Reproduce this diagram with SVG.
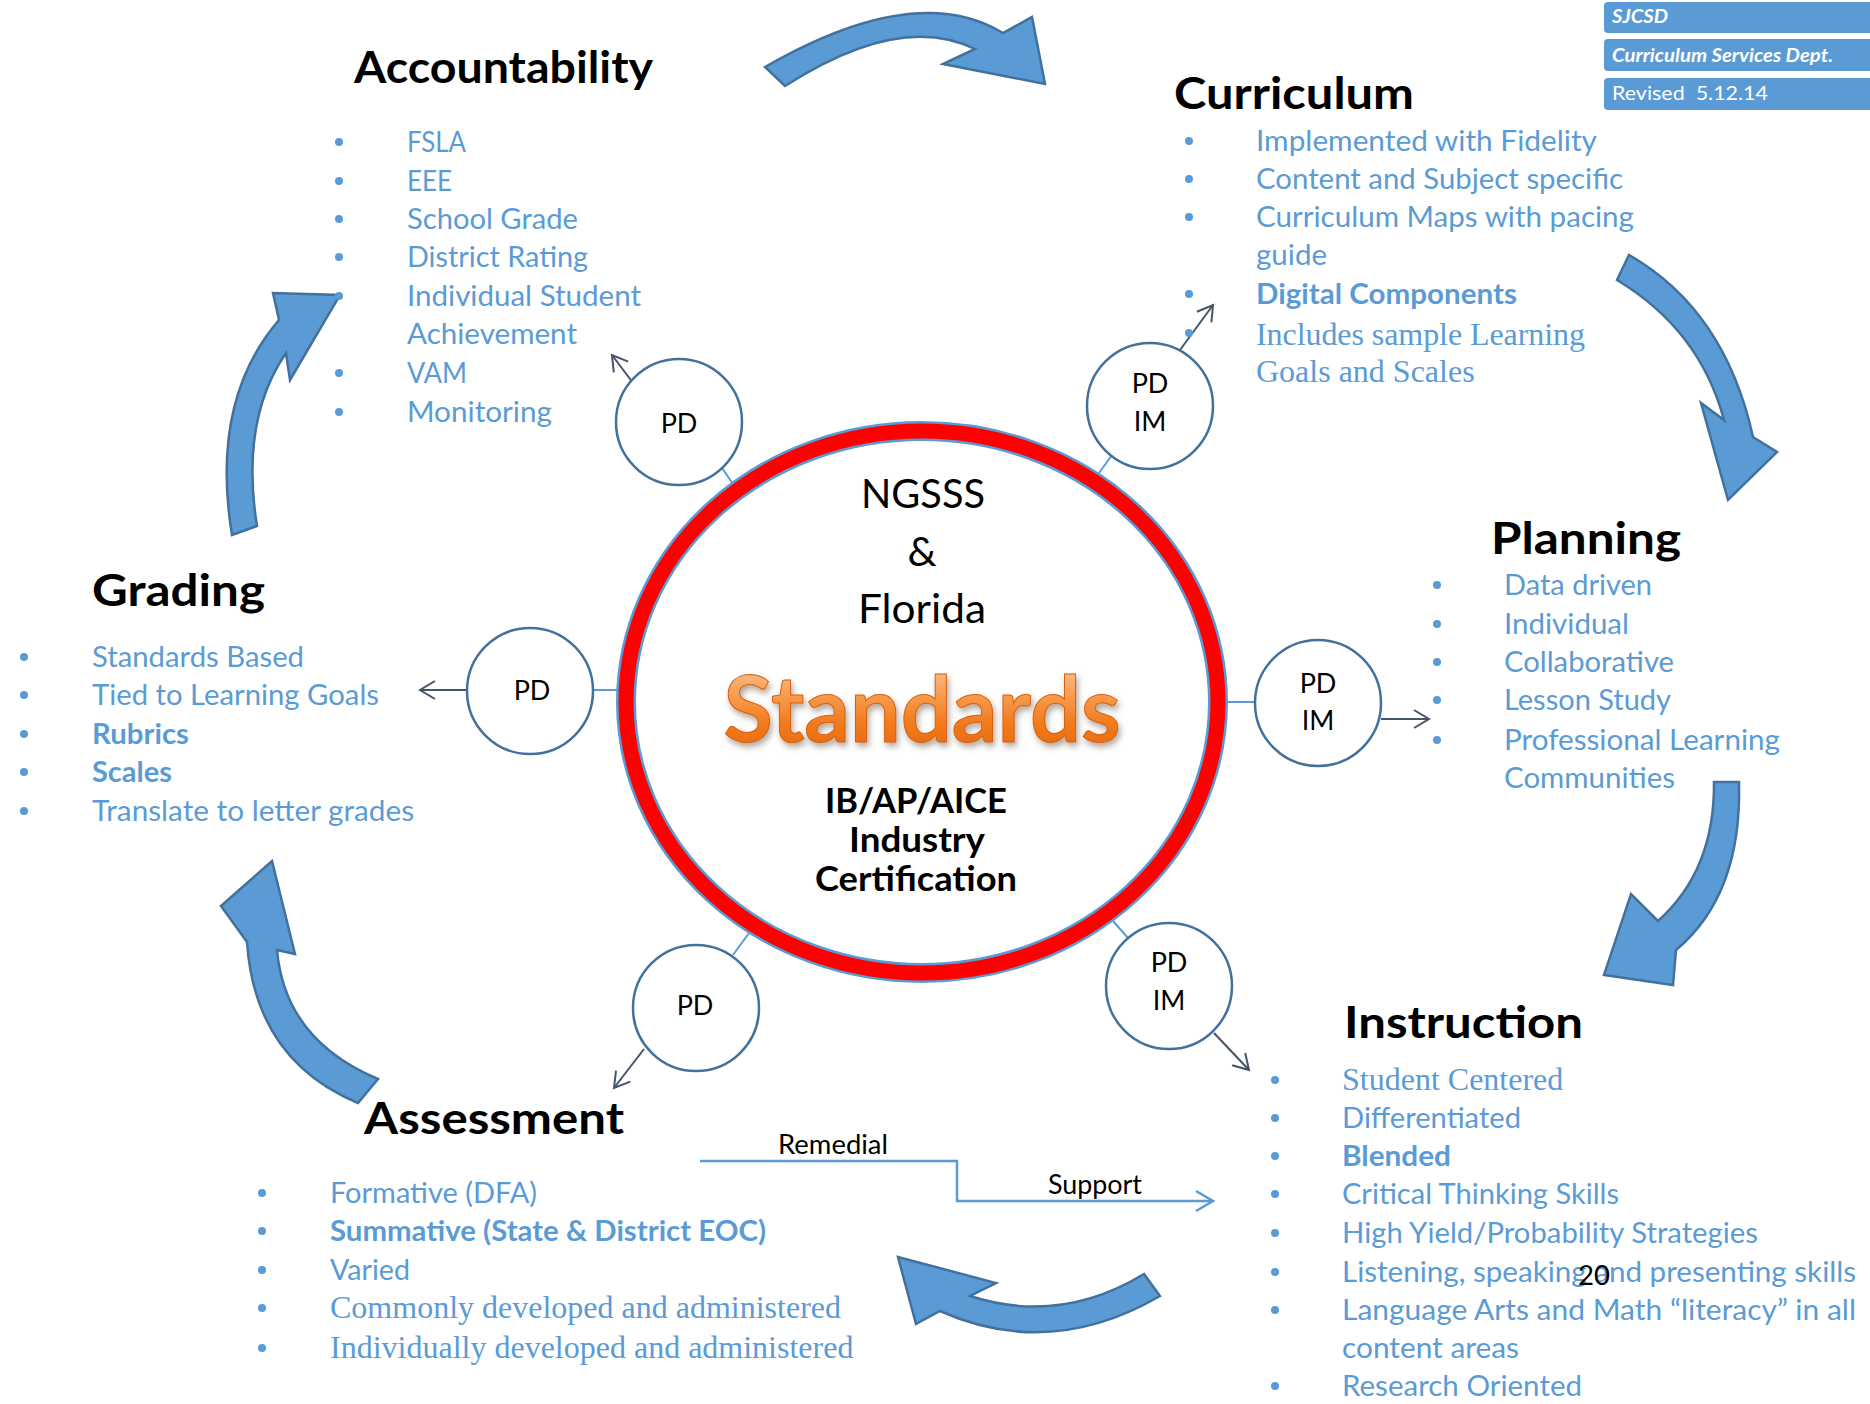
<svg xmlns="http://www.w3.org/2000/svg" width="1870" height="1404" viewBox="0 0 1870 1404">
<defs>
<style>
.title{font-family:Lato,"Open Sans",sans-serif;font-weight:bold;font-size:44px;fill:#000}
.item{font-family:Lato,"Open Sans",sans-serif;font-size:28px;fill:#5B9BD5}
.b{font-weight:bold}
.serif{font-family:"Liberation Serif",serif;font-size:32px;fill:#5B9BD5}
.bul{fill:#5B9BD5}
.big{fill:#5B9BD5;stroke:#41719C;stroke-width:2.5;stroke-linejoin:miter}
.pd circle{fill:#fff;stroke:#41719C;stroke-width:2.5}
.pdt{font-family:Lato,"Open Sans",sans-serif;font-size:27px;fill:#000;text-anchor:middle}
.conn{stroke:#5B9BD5;stroke-width:2;fill:none}
.parrow{stroke:#44546A;stroke-width:2;fill:none;marker-end:url(#open)}
.hdr rect{fill:#5B9BD5}
.hdrt{font-family:Lato,"Open Sans",sans-serif;fill:#fff;font-size:19px}
.ctr{font-family:Lato,"Open Sans",sans-serif;fill:#000;text-anchor:middle}
.lbl{font-family:Lato,"Open Sans",sans-serif;font-size:26px;fill:#000}
</style>
<marker id="open" markerUnits="userSpaceOnUse" markerWidth="24" markerHeight="24" refX="19" refY="12" orient="auto">
<path d="M4,3 L19,12 L4,21" fill="none" stroke="#44546A" stroke-width="2"/>
</marker>
<marker id="openblue" markerUnits="userSpaceOnUse" markerWidth="24" markerHeight="24" refX="20" refY="12" orient="auto">
<path d="M3,2 L20,12 L3,22" fill="none" stroke="#5B9BD5" stroke-width="2.5"/>
</marker>
<linearGradient id="orange" x1="0" y1="0" x2="0" y2="1">
<stop offset="0" stop-color="#FDD6B4"/>
<stop offset="0.35" stop-color="#F9A25A"/>
<stop offset="0.65" stop-color="#F27B1C"/>
<stop offset="1" stop-color="#E0640A"/>
</linearGradient>
<filter id="shadow" x="-10%" y="-20%" width="120%" height="150%">
<feDropShadow dx="2" dy="4" stdDeviation="3" flood-color="#7F6A55" flood-opacity="0.6"/>
</filter>
</defs>
<rect width="1870" height="1404" fill="#fff"/>

<g id="connectors">
<path class="big" d="M765,67 Q916,-20 1003,33 L1032,17 L1045,84 L943,64 L975,49 Q900,12 785,86 Z"/>
<path class="big" d="M1629,255 Q1725,310 1753,437 L1777,452 L1728,500 L1701,403 L1724,420 Q1700,330 1617,280 Z"/>
<path class="big" d="M1739,782 Q1742,895 1676,950 L1673,985 L1604,975 L1631,894 L1658,921 Q1715,870 1714,782 Z"/>
<path class="big" d="M1160,1296 Q1050,1360 940,1311 L916,1324 L898,1257 L996,1283 L970,1296 Q1060,1325 1144,1274 Z"/>
<path class="big" d="M358,1103 Q255,1060 247,942 L221,906 L272,861 L295,954 L277,950 Q285,1040 378,1079 Z"/>
<path class="big" d="M232,535 Q210,400 279,320 L273,293 L340,295 L290,380 L286,353 Q240,420 257,526 Z"/>
<line class="conn" x1="722" y1="468" x2="733" y2="484"/>
<line class="conn" x1="1112" y1="455" x2="1099" y2="473"/>
<line class="conn" x1="594" y1="690" x2="617" y2="690"/>
<line class="conn" x1="1255" y1="702" x2="1228" y2="702"/>
<line class="conn" x1="733" y1="955" x2="749" y2="933"/>
<line class="conn" x1="1128" y1="938" x2="1113" y2="921"/>
<line class="parrow" x1="633" y1="383" x2="612" y2="355"/>
<line class="parrow" x1="1180" y1="350" x2="1213" y2="305"/>
<line class="parrow" x1="466" y1="690" x2="420" y2="690"/>
<line class="parrow" x1="1381" y1="719" x2="1429" y2="719"/>
<line class="parrow" x1="644" y1="1049" x2="614" y2="1088"/>
<line class="parrow" x1="1214" y1="1033" x2="1249" y2="1070"/>
<polyline points="700,1161 957,1161 957,1201 1213,1201" fill="none" stroke="#5B9BD5" stroke-width="2.5" marker-end="url(#openblue)"/>
<text class="lbl" x="778" y="1154" textLength="110" lengthAdjust="spacingAndGlyphs">Remedial</text>
<text class="lbl" x="1048" y="1194" textLength="94" lengthAdjust="spacingAndGlyphs">Support</text>
</g>

<g id="header" class="hdr">
<rect x="1604" y="2" width="280" height="31" rx="4"/>
<rect x="1604" y="39" width="280" height="32" rx="4"/>
<rect x="1604" y="78" width="280" height="32" rx="4"/>
<text class="hdrt" x="1612" y="23" font-weight="bold" font-style="italic" textLength="56" lengthAdjust="spacingAndGlyphs">SJCSD</text>
<text class="hdrt" x="1612" y="62" font-weight="bold" font-style="italic" textLength="221" lengthAdjust="spacingAndGlyphs">Curriculum Services Dept.</text>
<text class="hdrt" x="1612" y="100" style="white-space:pre" textLength="156" lengthAdjust="spacingAndGlyphs">Revised  5.12.14</text>
</g>

<g id="accountability">
<text class="title" x="354" y="83" textLength="299" lengthAdjust="spacingAndGlyphs">Accountability</text>
<circle class="bul" cx="339" cy="142" r="4"/>
<circle class="bul" cx="339" cy="181" r="4"/>
<circle class="bul" cx="339" cy="219" r="4"/>
<circle class="bul" cx="339" cy="257" r="4"/>
<circle class="bul" cx="339" cy="296" r="4"/>
<circle class="bul" cx="339" cy="373" r="4"/>
<circle class="bul" cx="339" cy="412" r="4"/>
<text class="item" x="407" y="152" textLength="59" lengthAdjust="spacingAndGlyphs">FSLA</text>
<text class="item" x="407" y="191" textLength="45" lengthAdjust="spacingAndGlyphs">EEE</text>
<text class="item" x="407" y="229" textLength="171" lengthAdjust="spacingAndGlyphs">School Grade</text>
<text class="item" x="407" y="267" textLength="181" lengthAdjust="spacingAndGlyphs">District Rating</text>
<text class="item" x="407" y="306" textLength="234" lengthAdjust="spacingAndGlyphs">Individual Student</text>
<text class="item" x="407" y="344" textLength="170" lengthAdjust="spacingAndGlyphs">Achievement</text>
<text class="item" x="407" y="383" textLength="60" lengthAdjust="spacingAndGlyphs">VAM</text>
<text class="item" x="407" y="422" textLength="145" lengthAdjust="spacingAndGlyphs">Monitoring</text>
</g>

<g id="curriculum">
<text class="title" x="1174" y="109" textLength="240" lengthAdjust="spacingAndGlyphs">Curriculum</text>
<circle class="bul" cx="1189" cy="141" r="4"/>
<circle class="bul" cx="1189" cy="179" r="4"/>
<circle class="bul" cx="1189" cy="217" r="4"/>
<circle class="bul" cx="1189" cy="294" r="4"/>
<circle class="bul" cx="1189" cy="333" r="4"/>
<text class="item" x="1256" y="151" textLength="341" lengthAdjust="spacingAndGlyphs">Implemented with Fidelity</text>
<text class="item" x="1256" y="189" textLength="367" lengthAdjust="spacingAndGlyphs">Content and Subject specific</text>
<text class="item" x="1256" y="227" textLength="378" lengthAdjust="spacingAndGlyphs">Curriculum Maps with pacing</text>
<text class="item" x="1256" y="265" textLength="71" lengthAdjust="spacingAndGlyphs">guide</text>
<text class="item b" x="1256" y="304" textLength="261" lengthAdjust="spacingAndGlyphs">Digital Components</text>
<text class="serif" x="1256" y="345" textLength="329" lengthAdjust="spacing">Includes sample Learning</text>
<text class="serif" x="1256" y="382">Goals and Scales</text>
</g>

<g id="planning">
<text class="title" x="1491" y="554" textLength="190" lengthAdjust="spacingAndGlyphs">Planning</text>
<circle class="bul" cx="1437" cy="585" r="4"/>
<circle class="bul" cx="1437" cy="624" r="4"/>
<circle class="bul" cx="1437" cy="662" r="4"/>
<circle class="bul" cx="1437" cy="700" r="4"/>
<circle class="bul" cx="1437" cy="740" r="4"/>
<text class="item" x="1504" y="595" textLength="148" lengthAdjust="spacingAndGlyphs">Data driven</text>
<text class="item" x="1504" y="634" textLength="125" lengthAdjust="spacingAndGlyphs">Individual</text>
<text class="item" x="1504" y="672" textLength="170" lengthAdjust="spacingAndGlyphs">Collaborative</text>
<text class="item" x="1504" y="710" textLength="167" lengthAdjust="spacingAndGlyphs">Lesson Study</text>
<text class="item" x="1504" y="750" textLength="276" lengthAdjust="spacingAndGlyphs">Professional Learning</text>
<text class="item" x="1504" y="788" textLength="171" lengthAdjust="spacingAndGlyphs">Communities</text>
</g>

<g id="grading">
<text class="title" x="92" y="606" textLength="173" lengthAdjust="spacingAndGlyphs">Grading</text>
<circle class="bul" cx="24" cy="657" r="4"/>
<circle class="bul" cx="24" cy="695" r="4"/>
<circle class="bul" cx="24" cy="734" r="4"/>
<circle class="bul" cx="24" cy="772" r="4"/>
<circle class="bul" cx="24" cy="811" r="4"/>
<text class="item" x="92" y="667" textLength="212" lengthAdjust="spacingAndGlyphs">Standards Based</text>
<text class="item" x="92" y="705" textLength="287" lengthAdjust="spacingAndGlyphs">Tied to Learning Goals</text>
<text class="item b" x="92" y="744" textLength="97" lengthAdjust="spacingAndGlyphs">Rubrics</text>
<text class="item b" x="92" y="782" textLength="80" lengthAdjust="spacingAndGlyphs">Scales</text>
<text class="item" x="92" y="821" textLength="322" lengthAdjust="spacingAndGlyphs">Translate to letter grades</text>
</g>

<g id="assessment">
<text class="title" x="364" y="1134" textLength="260" lengthAdjust="spacingAndGlyphs">Assessment</text>
<circle class="bul" cx="262" cy="1193" r="4"/>
<circle class="bul" cx="262" cy="1231" r="4"/>
<circle class="bul" cx="262" cy="1270" r="4"/>
<circle class="bul" cx="262" cy="1308" r="4"/>
<circle class="bul" cx="262" cy="1348" r="4"/>
<text class="item" x="330" y="1203" textLength="207" lengthAdjust="spacingAndGlyphs">Formative (DFA)</text>
<text class="item b" x="330" y="1241" textLength="436" lengthAdjust="spacingAndGlyphs">Summative (State &amp; District EOC)</text>
<text class="item" x="330" y="1280" textLength="80" lengthAdjust="spacingAndGlyphs">Varied</text>
<text class="serif" x="330" y="1318">Commonly developed and administered</text>
<text class="serif" x="330" y="1358">Individually developed and administered</text>
</g>

<g id="instruction">
<text class="title" x="1344" y="1038" textLength="239" lengthAdjust="spacingAndGlyphs">Instruction</text>
<circle class="bul" cx="1275" cy="1080" r="4"/>
<circle class="bul" cx="1275" cy="1118" r="4"/>
<circle class="bul" cx="1275" cy="1156" r="4"/>
<circle class="bul" cx="1275" cy="1194" r="4"/>
<circle class="bul" cx="1275" cy="1233" r="4"/>
<circle class="bul" cx="1275" cy="1272" r="4"/>
<circle class="bul" cx="1275" cy="1310" r="4"/>
<circle class="bul" cx="1275" cy="1386" r="4"/>
<text class="serif" x="1342" y="1090">Student Centered</text>
<text class="item" x="1342" y="1128" textLength="179" lengthAdjust="spacingAndGlyphs">Differentiated</text>
<text class="item b" x="1342" y="1166" textLength="109" lengthAdjust="spacingAndGlyphs">Blended</text>
<text class="item" x="1342" y="1204" textLength="277" lengthAdjust="spacingAndGlyphs">Critical Thinking Skills</text>
<text class="item" x="1342" y="1243" textLength="416" lengthAdjust="spacingAndGlyphs">High Yield/Probability Strategies</text>
<text class="item" x="1342" y="1282" textLength="514" lengthAdjust="spacingAndGlyphs">Listening, speaking and presenting skills</text>
<text class="item" x="1342" y="1320" textLength="514" lengthAdjust="spacingAndGlyphs">Language Arts and Math “literacy” in all</text>
<text class="item" x="1342" y="1358" textLength="177" lengthAdjust="spacingAndGlyphs">content areas</text>
<text class="item" x="1342" y="1396" textLength="240" lengthAdjust="spacingAndGlyphs">Research Oriented</text>
<text class="lbl" x="1578" y="1285" textLength="32" lengthAdjust="spacingAndGlyphs">20</text>
</g>

<g id="standards">
<ellipse cx="922" cy="702" rx="296" ry="271" fill="#fff" stroke="#5B9BD5" stroke-width="20"/>
<ellipse cx="922" cy="702" rx="296" ry="271" fill="none" stroke="#FF0000" stroke-width="15"/>
<text class="ctr" x="923" y="508" font-size="41" textLength="124" lengthAdjust="spacingAndGlyphs">NGSSS</text>
<text class="ctr" x="922" y="566" font-size="41">&amp;</text>
<text class="ctr" x="922" y="623" font-size="41" textLength="128" lengthAdjust="spacingAndGlyphs">Florida</text>
<text x="922" y="742" text-anchor="middle" font-family="Lato, 'Open Sans', sans-serif" font-weight="bold" font-size="92" fill="url(#orange)" stroke="#D9600A" stroke-width="1" filter="url(#shadow)" textLength="397" lengthAdjust="spacingAndGlyphs">Standards</text>
<text class="ctr" x="916" y="813" font-size="35" font-weight="bold" textLength="182" lengthAdjust="spacingAndGlyphs">IB/AP/AICE</text>
<text class="ctr" x="917" y="852" font-size="35" font-weight="bold" textLength="136" lengthAdjust="spacingAndGlyphs">Industry</text>
<text class="ctr" x="916" y="891" font-size="35" font-weight="bold" textLength="202" lengthAdjust="spacingAndGlyphs">Certification</text>
</g>

<g id="pd-accountability" class="pd">
<circle cx="679" cy="422" r="63"/>
<text class="pdt" x="679" y="433">PD</text>
</g>
<g id="pd-curriculum" class="pd">
<circle cx="1150" cy="406" r="63"/>
<text class="pdt" x="1150" y="393">PD</text>
<text class="pdt" x="1150" y="431">IM</text>
</g>
<g id="pd-grading" class="pd">
<circle cx="530" cy="691" r="63"/>
<text class="pdt" x="532" y="700">PD</text>
</g>
<g id="pd-planning" class="pd">
<circle cx="1318" cy="703" r="63"/>
<text class="pdt" x="1318" y="693">PD</text>
<text class="pdt" x="1318" y="730">IM</text>
</g>
<g id="pd-assessment" class="pd">
<circle cx="696" cy="1008" r="63"/>
<text class="pdt" x="695" y="1015">PD</text>
</g>
<g id="pd-instruction" class="pd">
<circle cx="1169" cy="986" r="63"/>
<text class="pdt" x="1169" y="972">PD</text>
<text class="pdt" x="1169" y="1010">IM</text>
</g>
</svg>
